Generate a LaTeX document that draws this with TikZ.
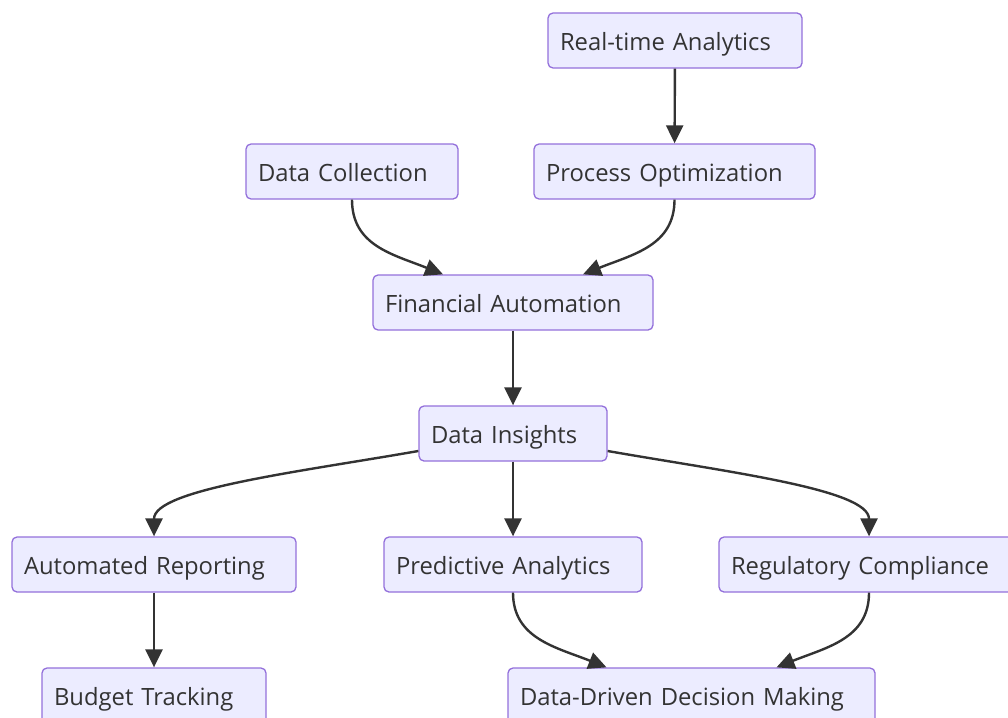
\documentclass[tikz,border=0pt]{standalone}
\usepackage{fontspec}
\setmainfont{Open Sans}
\usetikzlibrary{arrows.meta}
\definecolor{boxfill}{HTML}{ECECFF}
\definecolor{boxline}{HTML}{9370DB}
\definecolor{ink}{HTML}{333333}

\begin{document}
\begin{tikzpicture}[
    x=1pt, y=-1pt,
    box/.style={draw=boxline, fill=boxfill, line width=1.3pt, rounded corners=5pt, minimum height=55pt, inner xsep=12pt, text height=25pt, text depth=5.5pt, align=left, text=ink, font=\fontsize{23.8}{28}\selectfont},
    arrow/.style={-{Triangle[length=18pt,width=17pt]}, line width=2.4pt, draw=ink}
  ]
    \useasboundingbox (0,0) rectangle (1008,717);
    \node[box, text width=230pt] (rta) at (675,40.5) {Real-time Analytics};
    \node[box, text width=188pt] (dcol) at (352,171.5) {Data Collection};
    \node[box, text width=257pt] (popt) at (674.5,171.5) {Process Optimization};
    \node[box, text width=256pt] (fauto) at (513,302.5) {Financial Automation};
    \node[box, text width=164pt] (dins) at (513,433.5) {Data Insights};
    \node[box, text width=260pt] (arep) at (154,564.5) {Automated Reporting};
    \node[box, text width=234pt] (pana) at (513,564.5) {Predictive Analytics};
    \node[box, text width=276pt] (rcomp) at (869,564.5) {Regulatory Compliance};
    \node[box, text width=200pt] (btrack) at (154,695.5) {Budget Tracking};
    \node[box, text width=343pt] (ddm) at (691.5,695.5) {Data-Driven Decision Making};
    % straight links
    \draw[arrow] (rta) -- (popt);
    \draw[arrow] (fauto) -- (dins);
    \draw[arrow] (dins) -- (pana);
    \draw[arrow] (arep) -- (btrack);
    % curved links
    \draw[arrow] (dcol.south) .. controls +(0,46) and +(-50,-20) .. ([xshift=-70pt]fauto.north);
    \draw[arrow] (popt.south) .. controls +(0,46) and +(50,-20) .. ([xshift=70pt]fauto.north);
    \draw[arrow] ([yshift=-17.5pt]dins.west) .. controls +(-120,21) and +(0,-47) .. (arep.north);
    \draw[arrow] ([yshift=-17.5pt]dins.east) .. controls +(120,21) and +(0,-47) .. (rcomp.north);
    \draw[arrow] (pana.south) .. controls +(0,46) and +(-50,-20) .. ([xshift=-85pt]ddm.north);
    \draw[arrow] (rcomp.south) .. controls +(0,46) and +(50,-20) .. ([xshift=85pt]ddm.north);
\end{tikzpicture}
\end{document}
